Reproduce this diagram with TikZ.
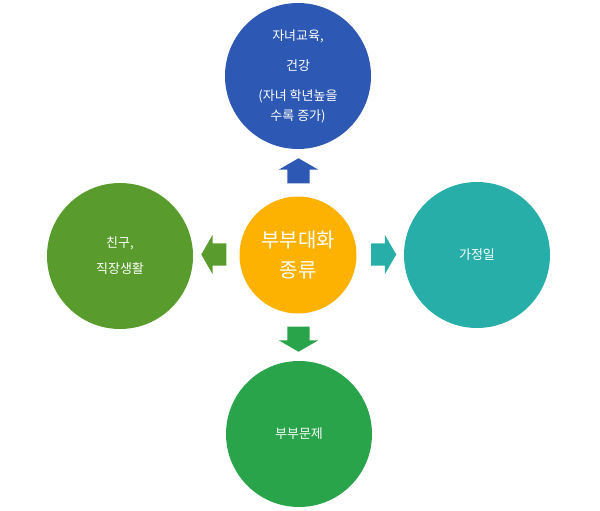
\documentclass[tikz,border=0pt]{standalone}
\usepackage{fontspec}
\setmainfont{Noto Sans CJK KR}
\usepackage{tikz}
\usetikzlibrary{shapes.arrows}
\definecolor{eduBlue}{RGB}{45,88,180}
\definecolor{hubOrange}{RGB}{253,178,2}
\definecolor{friendGreen}{RGB}{89,155,45}
\definecolor{houseTeal}{RGB}{40,174,168}
\definecolor{issueGreen}{RGB}{42,164,75}
\tikzset{
  topic/.style={circle, minimum size=146pt, inner sep=0pt, text=white, align=center, font=\fontsize{13}{20}\selectfont},
  hub/.style={circle, minimum size=117pt, inner sep=0pt, fill=hubOrange, text=white, align=center, font=\fontsize{20}{30}\selectfont},
  pointer/.style={single arrow, minimum height=25pt, inner xsep=0pt, inner ysep=11pt, single arrow head extend=8.5pt, single arrow tip angle=120}
}
\begin{document}
\begin{tikzpicture}[x=1pt, y=-1pt]
  \useasboundingbox (0,0) rectangle (600,511);
  \node[hub] (talk) at (298,255) {부부대화\\종류};

  \node[topic, fill=eduBlue] (edu) at (298,76) {자녀교육,\\[10pt]건강\\[10pt](자녀 학년높을\\수록 증가)};
  \node[topic, fill=friendGreen] (friend) at (120,256) {친구,\\[6pt]직장생활};
  \node[topic, fill=houseTeal] (house) at (477,255) {가정일};
  \node[topic, fill=issueGreen] (issue) at (299,434) {부부문제};

  \node[pointer, fill=eduBlue, rotate=90] (toEdu) at (298.5,174) {};
  \node[pointer, fill=friendGreen, rotate=180] (toFriend) at (217,254.5) {};
  \node[pointer, fill=houseTeal] (toHouse) at (380.5,254.5) {};
  \node[pointer, fill=issueGreen, rotate=-90] (toIssue) at (298.5,336) {};
\end{tikzpicture}
\end{document}
